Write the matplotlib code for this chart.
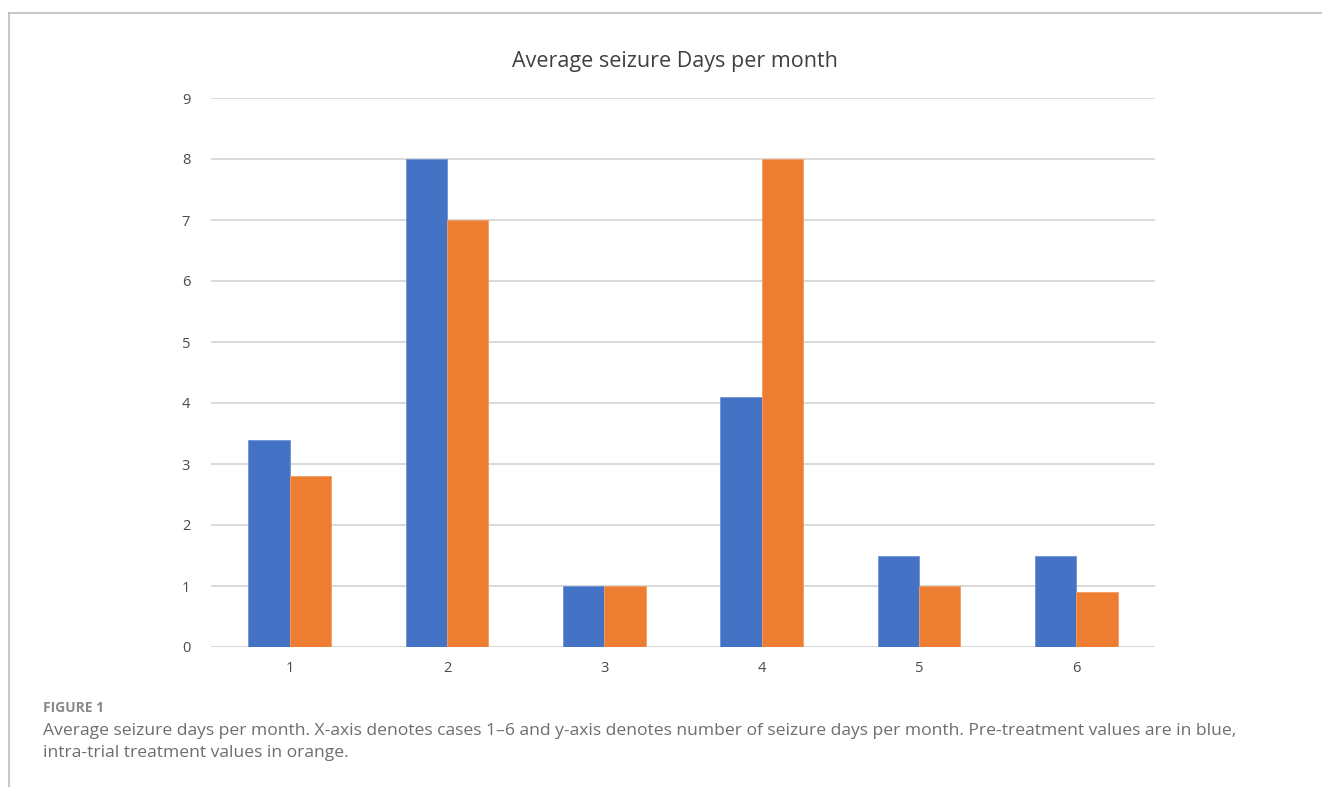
import numpy as np
import matplotlib.pyplot as plt
from matplotlib.lines import Line2D

# data
cases = ['1', '2', '3', '4', '5', '6']
pre_treatment = [3.4, 8, 1, 4.1, 1.5, 1.5]
intra_trial = [2.8, 7, 1, 8, 1, 0.9]
y_ticks = list(range(0, 10))

title = 'Average seizure Days per month'
fig_label = 'FIGURE 1'
caption_lines = [
    'Average seizure days per month. X-axis denotes cases 1\u20136 and y-axis denotes number of seizure days per month. Pre-treatment values are in blue,',
    'intra-trial treatment values in orange.',
]

W, H = 1322, 787
fig = plt.figure(figsize=(W / 100, H / 100), dpi=100)
plt.rcParams['font.family'] = ['Open Sans', 'DejaVu Sans']

# axes placed in pixel terms
left, right, bottom, top = 211, 1155, 647, 98
ax = fig.add_axes([left / W, 1 - bottom / H, (right - left) / W, (bottom - top) / H])

x = np.arange(len(cases))
bw = 0.262
ax.bar(x - bw / 2, pre_treatment, width=bw, color='#4472C4', edgecolor='#6f93d6',
       linewidth=0.6, zorder=3)
ax.bar(x + bw / 2, intra_trial, width=bw, color='#ED7D31', edgecolor='#f29c63',
       linewidth=0.6, zorder=3)

ax.set_xlim(-0.5, len(cases) - 0.5)
ax.set_ylim(0, 9)
ax.set_yticks(y_ticks)
ax.set_xticks(x)
ax.set_xticklabels(cases)
ax.yaxis.grid(True, color='#d9d9d9', linewidth=1.4, zorder=0)
ax.set_axisbelow(True)
for s in ax.spines.values():
    s.set_visible(False)
ax.tick_params(axis='both', length=0, labelsize=10.5, labelcolor='#4a4a4a')
ax.tick_params(axis='y', pad=15)
ax.tick_params(axis='x', pad=10)
# baseline
ax.axhline(0, color='#d9d9d9', linewidth=1.4, zorder=1)

fig.text(675 / W, 1 - 62 / H, title, ha='center', va='center',
         fontsize=15.5, color='#404040')

# figure frame lines (top and left)
fig.add_artist(Line2D([9 / W, 1], [1 - 13 / H, 1 - 13 / H], color='#bdbdbd', linewidth=1.2))
fig.add_artist(Line2D([9 / W, 9 / W], [0, 1 - 13 / H], color='#bdbdbd', linewidth=1.2))

# caption
fig.text(43 / W, 1 - 708 / H, fig_label, ha='left', va='center', fontsize=10,
         color='#8a8a8a', fontweight='bold')
fig.text(43 / W, 1 - 731 / H, caption_lines[0], ha='left', va='center', fontsize=12.6,
         color='#6e6e6e')
fig.text(43 / W, 1 - 753 / H, caption_lines[1], ha='left', va='center', fontsize=12.6,
         color='#6e6e6e')

fig.savefig('out.png', dpi=100)
